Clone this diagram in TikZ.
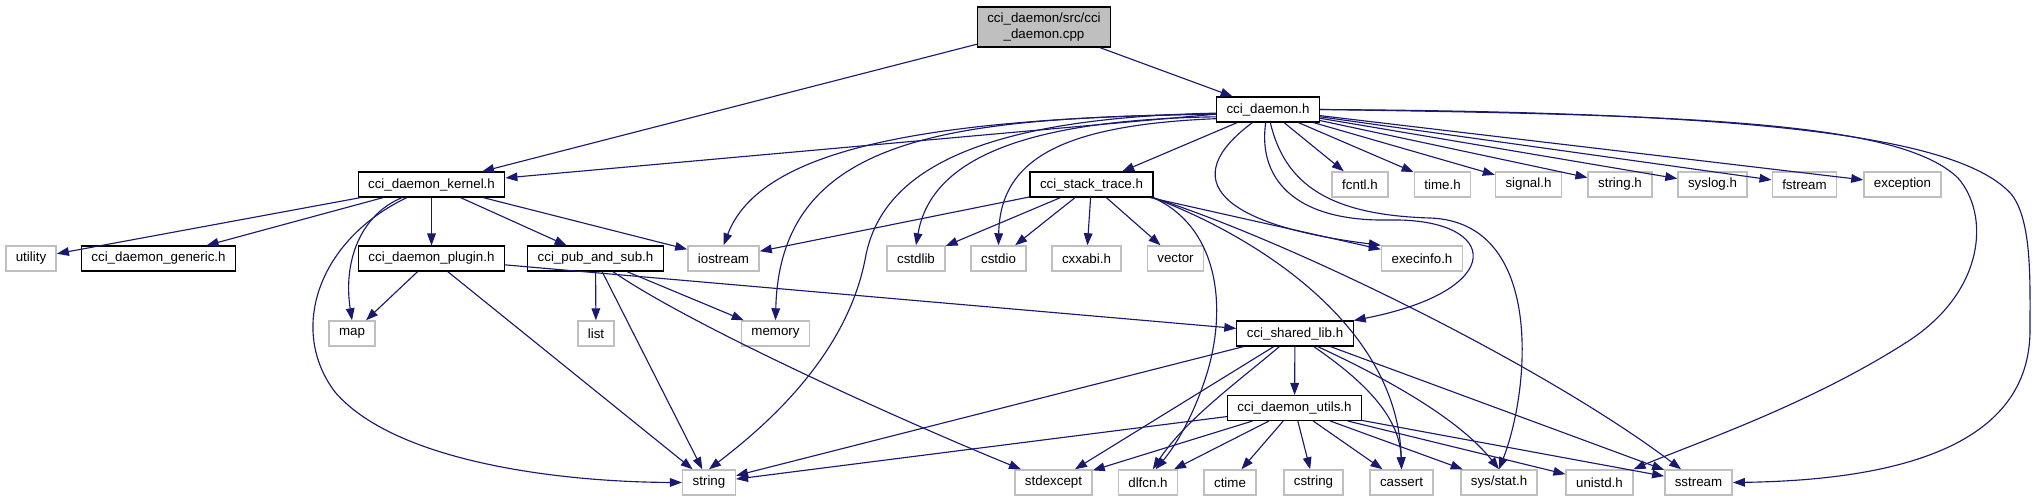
\documentclass[tikz,border=0pt]{standalone}
\usepackage{fontspec}
\setmainfont{Liberation Sans}
\usetikzlibrary{arrows.meta}
\definecolor{EdgeBlue}{HTML}{191970}
\definecolor{SysGray}{HTML}{BFBFBF}
\newcommand{\graphfont}{\fontsize{10}{11.5}\selectfont}

\begin{document}
\begin{tikzpicture}[
    x=0.75pt, y=-0.75pt,
    hdr/.style={
        rectangle, draw=black, line width=0.8pt, fill=white,
        font=\graphfont, inner xsep=7.5pt, inner ysep=0pt,
        minimum height=18.75pt
    },
    syshdr/.style={hdr, draw=SysGray, line width=1.1pt},
    srcfile/.style={hdr, fill=SysGray, align=center, minimum height=30pt},
    inc/.style={-{Triangle[length=9pt, width=6.5pt]}, draw=EdgeBlue,
                line width=0.85pt}
]
\useasboundingbox (0,0) rectangle (2036,501);

% Files
\node[srcfile] (cppfile) at (1044,27) {cci\_daemon/src/cci\\\_daemon.cpp};
\node[hdr] (daemon) at (1268,109.5) {cci\_daemon.h};

\node[hdr] (kernel) at (431.5,184.5) {cci\_daemon\_kernel.h};
\node[hdr] (stack) at (1091.5,184.5) {cci\_stack\_trace.h};
\node[syshdr] (fcntl) at (1360,184.5) {fcntl.h};
\node[syshdr] (timeh) at (1442.5,184.5) {time.h};
\node[syshdr] (signalh) at (1528.5,184.5) {signal.h};
\node[syshdr] (stringh) at (1620,184.5) {string.h};
\node[syshdr] (syslogh) at (1712.5,184.5) {syslog.h};
\node[syshdr] (fstream) at (1804.5,184.5) {fstream};
\node[syshdr] (exception) at (1902.5,184.5) {exception};

\node[syshdr] (utility) at (31,258.5) {utility};
\node[hdr] (generic) at (158.5,258.5) {cci\_daemon\_generic.h};
\node[hdr] (plugin) at (431.5,258.5) {cci\_daemon\_plugin.h};
\node[hdr] (pubsub) at (595.5,258.5) {cci\_pub\_and\_sub.h};
\node[syshdr] (iostream) at (723.5,258.5) {iostream};
\node[syshdr] (cstdlib) at (916,258.5) {cstdlib};
\node[syshdr] (cstdio) at (998.5,258.5) {cstdio};
\node[syshdr] (cxxabi) at (1086.5,258.5) {cxxabi.h};
\node[syshdr] (vector) at (1175.5,258.5) {vector};
\node[syshdr] (execinfo) at (1422,258.5) {execinfo.h};

\node[syshdr] (map) at (352,333.5) {map};
\node[syshdr] (list) at (596,333.5) {list};
\node[syshdr] (memory) at (775.5,333.5) {memory};
\node[hdr] (sharedlib) at (1295,333.5) {cci\_shared\_lib.h};

\node[hdr] (utils) at (1294.5,408) {cci\_daemon\_utils.h};

\node[syshdr] (string) at (709,482.5) {string};
\node[syshdr] (stdexcept) at (1053.5,482.5) {stdexcept};
\node[syshdr] (dlfcn) at (1148,482.5) {dlfcn.h};
\node[syshdr] (ctime) at (1230,482.5) {ctime};
\node[syshdr] (cstring) at (1313.5,482.5) {cstring};
\node[syshdr] (cassert) at (1401.5,482.5) {cassert};
\node[syshdr] (sysstat) at (1499,482.5) {sys/stat.h};
\node[syshdr] (unistd) at (1599.5,482.5) {unistd.h};
\node[syshdr] (sstream) at (1698.5,482.5) {sstream};

% Straight includes
\foreach \a/\b in {cppfile/kernel, cppfile/daemon,
                   daemon/kernel, daemon/stack, daemon/fcntl, daemon/timeh,
                   daemon/signalh, daemon/stringh, daemon/syslogh,
                   daemon/fstream, daemon/exception,
                   kernel/utility, kernel/generic, kernel/plugin,
                   kernel/pubsub, kernel/iostream,
                   stack/iostream, stack/cstdlib, stack/cstdio, stack/cxxabi,
                   stack/vector, stack/execinfo,
                   plugin/map, plugin/string, plugin/sharedlib,
                   pubsub/list, pubsub/memory, pubsub/string,
                   sharedlib/string, sharedlib/stdexcept, sharedlib/utils,
                   sharedlib/sstream,
                   utils/string, utils/stdexcept, utils/dlfcn, utils/ctime,
                   utils/cstring, utils/cassert, utils/sysstat, utils/unistd,
                   utils/sstream} {
    \draw[inc] (\a) -- (\b);
}

% Curved includes
\draw[inc] (daemon.-175) .. controls (920,118) and (760,150) .. (iostream.north);
\draw[inc] (daemon.-175) .. controls (950,118) and (780,135) .. (memory.north);
\draw[inc] (daemon.-176) .. controls (980,118) and (880,170) .. (865,260)
    .. controls (845,360) and (760,430) .. (string.north);
\draw[inc] (daemon.-172) .. controls (1010,120) and (930,165) .. (cstdlib.north);
\draw[inc] (daemon.-170) .. controls (1060,125) and (1000,160) .. (cstdio.north);
\draw[inc] (daemon.-140) .. controls (1175,180) and (1220,225) .. (execinfo.north west);
\draw[inc] (daemon.-100) .. controls (1258,175) and (1290,222) .. (1390,220)
    .. controls (1500,218) and (1510,290) .. (sharedlib.north east);
\draw[inc] (daemon.-80) .. controls (1285,185) and (1330,215) .. (1430,218)
    .. controls (1545,222) and (1530,390) .. (sysstat.north);
\draw[inc] (daemon.east) .. controls (1700,115) and (1900,122) .. (1958,178)
    .. controls (1990,215) and (1985,290) .. (1910,340)
    .. controls (1810,405) and (1690,445) .. (unistd.north east);
\draw[inc] (daemon.east) .. controls (1750,112) and (1960,135) .. (2012,195)
    .. controls (2032,222) and (2030,280) .. (2030,330)
    .. controls (2030,445) and (1900,480) .. (sstream.east);

\draw[inc] (kernel.-156) .. controls (360,215) and (343,262) .. (map.north);
\draw[inc] (kernel.-152) .. controls (318,240) and (288,330) .. (335,392)
    .. controls (395,462) and (560,482) .. (string.west);

\draw[inc] (stack.-12) .. controls (1215,225) and (1228,300) .. (1208,370)
    .. controls (1193,420) and (1172,450) .. (dlfcn.60);
\draw[inc] (stack.-12) .. controls (1265,240) and (1398,330) .. (cassert.north);
\draw[inc] (stack.-12) .. controls (1300,245) and (1550,370) .. (sstream);

\draw[inc] (pubsub.-37) .. controls (690,325) and (900,420) .. (stdexcept);

\draw[inc] (sharedlib.-140) .. controls (1240,380) and (1185,420) .. (dlfcn.70);
\draw[inc] (sharedlib.-35) .. controls (1370,385) and (1400,420) .. (cassert.north);
\draw[inc] (sharedlib.-30) .. controls (1390,380) and (1460,420) .. (sysstat.north);

\end{tikzpicture}
\end{document}
